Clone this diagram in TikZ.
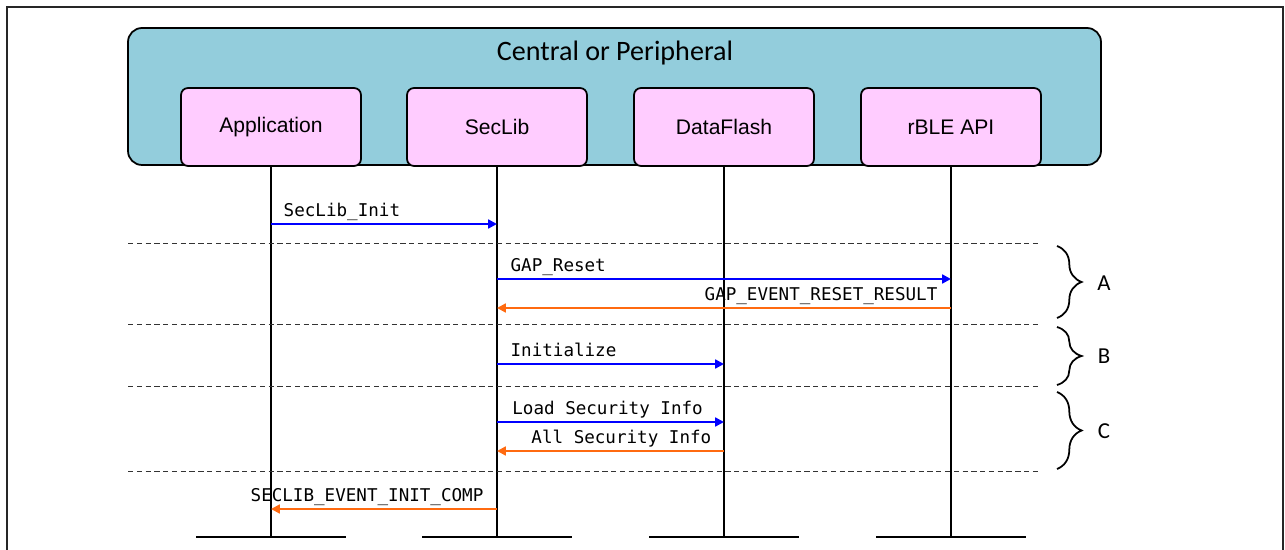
\documentclass[tikz,border=0pt]{standalone}
\usepackage{fontspec}
\setmainfont{Carlito}
\newfontfamily\boxfont{Liberation Sans}
\setmonofont{DejaVu Sans Mono}
\usetikzlibrary{arrows.meta,decorations.pathreplacing}

\definecolor{hostblue}{HTML}{93CDDC}
\definecolor{blockpink}{HTML}{FFCCFF}
\definecolor{callblue}{HTML}{0000FF}
\definecolor{retorange}{HTML}{FF6A10}

\begin{document}
\begin{tikzpicture}[x=0.02cm, y=-0.02cm,
    block/.style={draw, line width=1pt, rounded corners=4pt, fill=blockpink,
      minimum width=3.6cm, minimum height=1.56cm, inner sep=0pt,
      font=\boxfont\fontsize{12}{14}\selectfont},
    life/.style={line width=1.1pt},
    foot/.style={line width=1.7pt},
    sep/.style={dashed, dash pattern=on 3pt off 2pt, line width=0.5pt, black!80},
    call/.style={line width=1.5pt, callblue, -{Triangle[length=5pt,width=5pt]}},
    ret/.style={line width=1.5pt, retorange, -{Triangle[length=5pt,width=5pt]}},
    msg/.style={font=\ttfamily\fontsize{10}{12}\selectfont, text=black, inner sep=0pt},
    brc/.style={decorate, decoration={brace, amplitude=14pt}, line width=1pt},
    tag/.style={font=\fontsize{13}{15}\selectfont}]

  \useasboundingbox (0,0) rectangle (1285,550);

  % Frame
  \draw[line width=1.1pt, black!85] (7,7) rectangle (1283,600);

  % Host box with its blocks
  \draw[line width=1pt, fill=hostblue, rounded corners=8pt] (128,28) rectangle (1101,165);
  \node[font=\fontsize{16}{18}\selectfont] (title) at (615,53) {Central or Peripheral};

  \node[block] (app) at (271,127) {Application};
  \node[block] (seclib) at (497,127) {SecLib};
  \node[block] (flash) at (724,127) {DataFlash};
  \node[block] (rble) at (951,127) {rBLE API};

  % Lifelines
  \coordinate (bottom) at (0,537);
  \foreach \b in {app,seclib,flash,rble} {
    \draw[life] (\b.south) -- (\b.south |- bottom) coordinate (\b-end);
    \draw[foot] (\b-end) ++(-75,0) -- ++(150,0);
  }

  % Phase separators
  \foreach \y in {243,324,386,471}
    \draw[sep] (128,\y) -- (1040,\y);

  % Messages
  \coordinate (r1) at (0,224);
  \coordinate (r2) at (0,279);
  \coordinate (r3) at (0,308);
  \coordinate (r4) at (0,364);
  \coordinate (r5) at (0,422);
  \coordinate (r6) at (0,451);
  \coordinate (r7) at (0,509);

  \draw[call] (app |- r1) -- (seclib |- r1)
    node[msg, pos=0, anchor=base west, xshift=6.5pt, yshift=4pt] {SecLib\_Init};
  \draw[call] (seclib |- r2) -- (rble |- r2)
    node[msg, pos=0, anchor=base west, xshift=7pt, yshift=4pt] {GAP\_Reset};
  \draw[ret] (rble |- r3) -- (seclib |- r3)
    node[msg, pos=0, anchor=base east, xshift=-7pt, yshift=4pt] {GAP\_EVENT\_RESET\_RESULT};
  \draw[call] (seclib |- r4) -- (flash |- r4)
    node[msg, pos=0, anchor=base west, xshift=7pt, yshift=4pt] {Initialize};
  \draw[call] (seclib |- r5) -- (flash |- r5)
    node[msg, pos=0, anchor=base west, xshift=8pt, yshift=4pt] {Load Security Info};
  \draw[ret] (flash |- r6) -- (seclib |- r6)
    node[msg, pos=0, anchor=base east, xshift=-6.5pt, yshift=4pt] {All Security Info};
  \draw[ret] (seclib |- r7) -- (app |- r7)
    node[msg, pos=0, anchor=base east, xshift=-7pt, yshift=4pt] {SECLIB\_EVENT\_INIT\_COMP};

  % Phase braces
  \draw[brc] (1057,246) -- (1057,318);
  \node[tag] (phaseA) at (1104,283) {A};
  \draw[brc] (1057,327) -- (1057,385);
  \node[tag] (phaseB) at (1104,356) {B};
  \draw[brc] (1057,392) -- (1057,469);
  \node[tag] (phaseC) at (1104,431) {C};
\end{tikzpicture}
\end{document}
